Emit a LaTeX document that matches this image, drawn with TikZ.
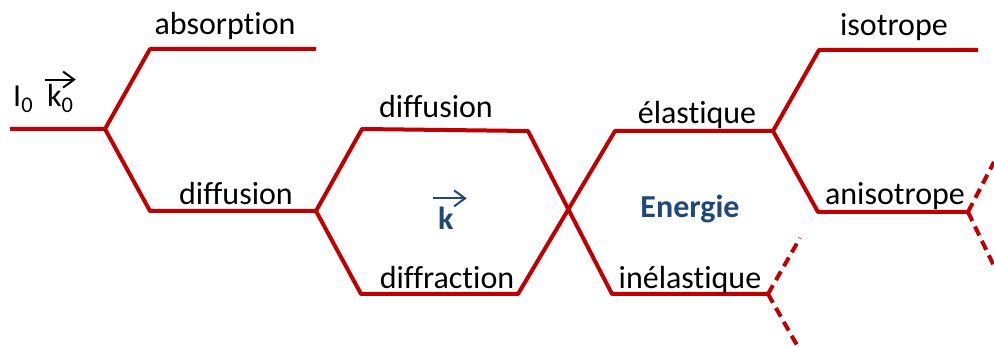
\documentclass[tikz,border=0pt]{standalone}
\usepackage{fontspec}
\setmainfont[Ligatures=NoCommon]{Carlito}
\usetikzlibrary{arrows.meta}
\definecolor{dred}{RGB}{192,0,0}
\definecolor{dblue}{RGB}{31,73,125}
\begin{document}
\begin{tikzpicture}[x=1pt,y=-1pt,
  branch/.style={draw=dred,line width=4pt,line join=round},
  dbranch/.style={draw=dred,line width=4pt,dash pattern=on 10pt off 6pt},
  lab/.style={anchor=base,inner sep=0pt,font=\fontsize{32}{38}\selectfont},
  blab/.style={anchor=base,inner sep=0pt,font=\fontsize{32}{38}\selectfont\bfseries,text=dblue},
  vec/.style={-{Straight Barb[length=11pt,width=16pt]},line width=2pt}]
\useasboundingbox (0,0) rectangle (994,347);
% junction coordinates
\coordinate (a0) at (10,129);
\coordinate (j1) at (105,129);
\coordinate (p1) at (150,49);
\coordinate (p1e) at (316,49);
\coordinate (p2) at (150,211);
\coordinate (j2) at (316,211);
\coordinate (q1) at (362,129);
\coordinate (q1e) at (528,131);
\coordinate (q2) at (361,294);
\coordinate (q2e) at (518,294);
\coordinate (r1) at (615,131);
\coordinate (r1e) at (773,131);
\coordinate (r2) at (612,294);
\coordinate (r2e) at (768,294);
\coordinate (s1) at (819,50);
\coordinate (s1e) at (978,50);
\coordinate (s2) at (818,212);
\coordinate (s2e) at (968,212);
\coordinate (t1) at (994,162);
\coordinate (t2) at (994,266);
\coordinate (u1) at (800,238);
\coordinate (u2) at (798,347);
% solid branches
\draw[branch] (a0) -- (j1) -- (p1) -- (p1e);
\draw[branch] (j1) -- (p2) -- (j2);
\draw[branch] (j2) -- (q1) -- (q1e) -- (r2) -- (r2e);
\draw[branch] (j2) -- (q2) -- (q2e) -- (r1) -- (r1e);
\draw[branch] (r1e) -- (s1) -- (s1e);
\draw[branch] (r1e) -- (s2) -- (s2e);
% dashed branches
\draw[dbranch] (s2e) -- (t1);
\draw[dbranch] (s2e) -- (t2);
\draw[dbranch] (r2e) -- (u1);
\draw[dbranch] (r2e) -- (u2);
% labels
\node[lab] (labs) at (225,35) {absorption};
\node[lab] (ldif1) at (236,205) {diffusion};
\node[lab] (ldif2) at (436,118) {diffusion};
\node[lab] (ldifr) at (447,289) {diffraction};
\node[lab] (lela) at (697,124) {élastique};
\node[lab] (linel) at (690,289) {inélastique};
\node[lab] (liso) at (894,36) {isotrope};
\node[lab] (laniso) at (895,205) {anisotrope};
\node[blab] (lener) at (690,218) {Energie};
\node[blab,anchor=base west] (lk) at (438,230) {k};
\draw[vec,draw=dblue] ([xshift=-5pt,yshift=9pt]lk.north west) -- ([xshift=13pt,yshift=9pt]lk.north east);
\node[lab,anchor=base west] (lI) at (13,107) {I\textsubscript{0}};
\node[lab,anchor=base west] (lk0) at (47,107) {k\textsubscript{0}};
\draw[vec] ([xshift=-2pt,yshift=5pt]lk0.north west) -- ([xshift=2pt,yshift=5pt]lk0.north east);
\end{tikzpicture}
\end{document}
